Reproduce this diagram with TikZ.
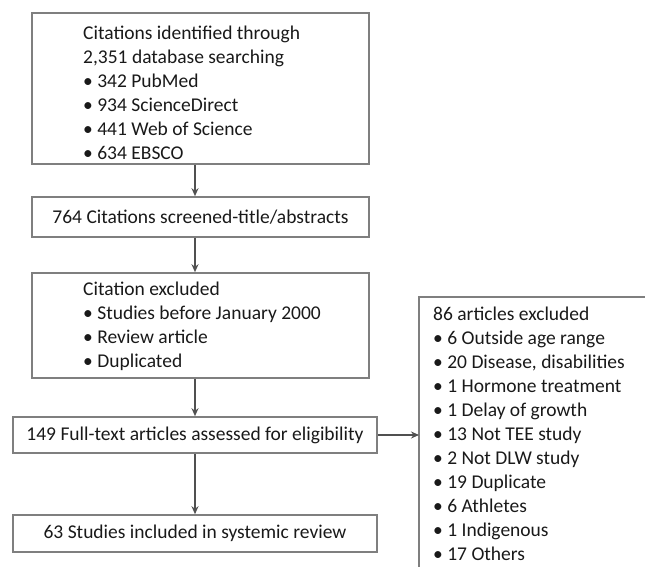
\documentclass[tikz,border=0pt]{standalone}
\usepackage{fontspec}
\setmainfont{Carlito}
\usetikzlibrary{arrows.meta}
\definecolor{boxgray}{HTML}{7F7F7F}
\definecolor{arrgray}{HTML}{505050}
\tikzset{
  flowbox/.style={draw=boxgray, line width=1.6pt, minimum width=337pt, font=\fontsize{19.5}{24}\selectfont, text=black!90},
  listtext/.style={anchor=west, align=left, inner sep=0pt, font=\fontsize{19.5}{24}\selectfont, text=black!90},
  flowarr/.style={draw=arrgray, line width=1.2pt, -{Stealth[length=8pt,width=7pt]}}
}
\newcommand{\itm}{\textbullet\ }
\begin{document}
\begin{tikzpicture}[x=1pt, y=-1pt]
		%%%%% START %%%%%
		\clip (0, 0) rectangle (645, 567);
		
		\node[flowbox, minimum height=151pt] (found) at (200.5, 88.5) {};
		\node[listtext] (foundtxt) at (83, 93) {Citations identified through\\2,351 database searching\\\itm 342 PubMed\\\itm 934 ScienceDirect\\\itm 441 Web of Science\\\itm 634 EBSCO};
		\node[flowbox, minimum height=40pt] (screen) at (200.5, 217) {764 Citations screened-title/abstracts};
		\node[flowbox, minimum height=105pt] (drop) at (200.5, 325.5) {};
		\node[listtext] (droptxt) at (83, 326) {Citation excluded\\\itm Studies before January 2000\\\itm Review article\\\itm Duplicated};
		
		\node[flowbox, minimum width=364pt, minimum height=36pt] (full) at (195, 435) {149 Full-text articles assessed for eligibility};
		\node[flowbox, minimum width=364pt, minimum height=37pt] (incl) at (195, 533.5) {63 Studies included in systemic review};
		
		% excluded list, box runs off the page
		\coordinate (excl) at (419, 297);
		\node[listtext] (excltxt) at (433, 434) {86 articles excluded\\\itm 6 Outside age range\\\itm 20 Disease, disabilities\\\itm 1 Hormone treatment\\\itm 1 Delay of growth\\\itm 13 Not TEE study\\\itm 2 Not DLW study\\\itm 19 Duplicate\\\itm 6 Athletes\\\itm 1 Indigenous\\\itm 17 Others};
		\draw[boxgray, line width=1.6pt] (excl |- 0, 600) -- (excl) -- ++(300, 0);
		
		\draw[flowarr] (found.south -| full.center) -- (screen.north -| full.center);
		\draw[flowarr] (screen.south -| full.center) -- (drop.north -| full.center);
		\draw[flowarr] (drop.south -| full.center) -- (full.north);
		\draw[flowarr] (full.south) -- (incl.north);
		\draw[flowarr] (full.east) -- (full.east -| excl);
		
		%%%%% END %%%%%
	\end{tikzpicture}
\end{document}
